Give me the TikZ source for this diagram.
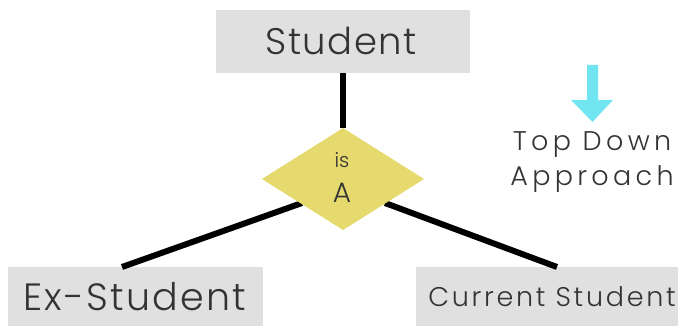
\documentclass[tikz,border=0pt]{standalone}
\usepackage{fontspec}
\setmainfont{Poppins Light}
\usetikzlibrary{shapes.geometric}
\definecolor{boxgray}{HTML}{E0E0E0}
\definecolor{isayellow}{HTML}{E6D96E}
\definecolor{arrowcyan}{HTML}{72E6F0}
\definecolor{txt}{HTML}{333333}
\tikzset{
  entity/.style={fill=boxgray, draw=none, inner sep=0pt, text=txt},
  lbl/.style={text=txt, inner sep=0pt},
  link/.style={line width=6pt, black},
}
\begin{document}
\begin{tikzpicture}[x=1pt,y=-1pt]
\useasboundingbox (0,0) rectangle (686,326);
\node[entity, minimum width=254pt, minimum height=63pt] (student) at (343,41.5) {};
\node[lbl, font=\fontsize{37}{40}\selectfont\addfontfeatures{LetterSpace=4}] (studentlbl) at (341,41) {Student};
\coordinate (dt) at (343,128);
\coordinate (dl) at (262,179);
\coordinate (db) at (343,230);
\coordinate (dr) at (424,179);
\node[entity, minimum width=255pt, minimum height=62pt, anchor=north west] (ex) at (8,267) {};
\node[lbl, font=\fontsize{38}{40}\selectfont\addfontfeatures{LetterSpace=6}] (exlbl) at (135,297) {Ex-Student};
\node[entity, minimum width=262pt, minimum height=62pt, anchor=north west] (cur) at (416,267) {};
\node[lbl, font=\fontsize{27}{30}\selectfont\addfontfeatures{LetterSpace=10}] (curlbl) at (552,297) {Current Student};
\coordinate (l1) at (122,267);
\coordinate (l0) at (302,203);
\coordinate (r0) at (385,203);
\coordinate (r1) at (557,267);
\draw[link] (student.south) -- (dt);
\draw[link] (l0) -- (l1);
\draw[link] (r0) -- (r1);
\fill[isayellow] (dt) -- (dr) -- (db) -- (dl) -- cycle;
\node[lbl, font=\fontsize{20}{22}\selectfont] (is) at (342,160) {is};
\node[lbl, font=\fontsize{28}{30}\selectfont] (a) at (342,193) {A};
\fill[arrowcyan] (587,65) -- (598,65) -- (598,100) -- (613,100) -- (592.5,122) -- (571,100) -- (587,100) -- cycle;
\node[lbl, font=\fontsize{27}{35}\selectfont\addfontfeatures{LetterSpace=16}, align=center] (td) at (592,162) {Top Down\\Approach};
\end{tikzpicture}
\end{document}
